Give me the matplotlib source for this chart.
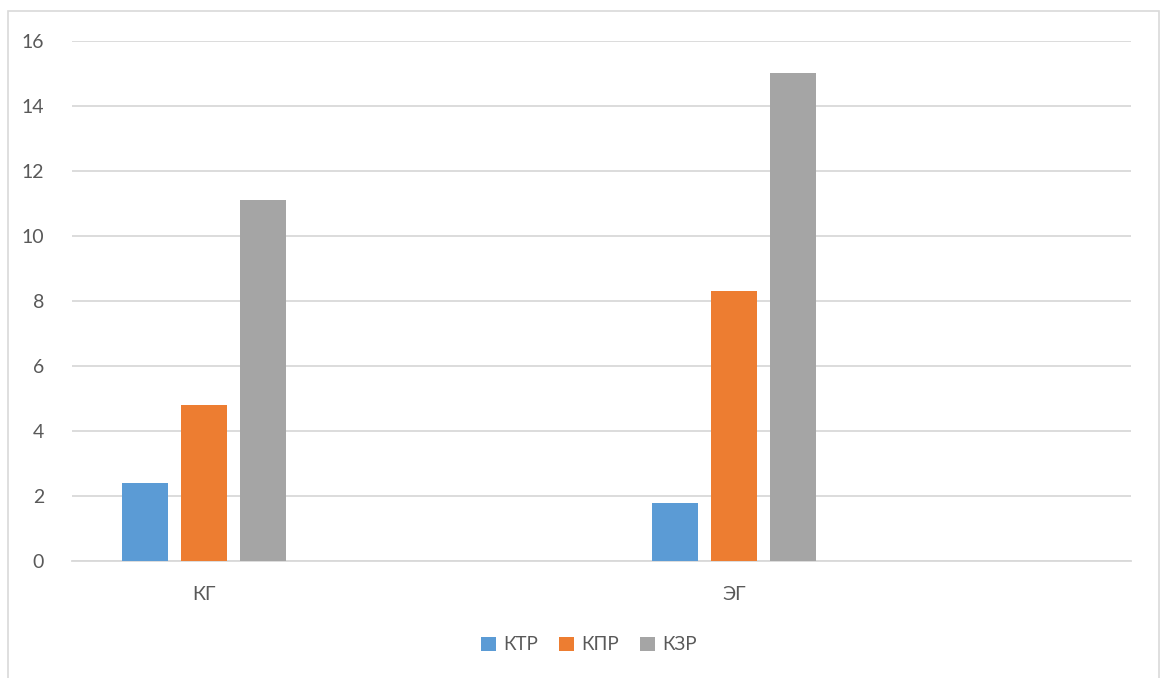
import matplotlib
matplotlib.use("Agg")
import matplotlib.pyplot as plt
import numpy as np
from matplotlib.patches import Rectangle

categories = ["КГ", "", "ЭГ", ""]
series_names = ["КТР", "КПР", "КЗР"]
ktr = [2.4, np.nan, 1.8, np.nan]
kpr = [4.8, np.nan, 8.3, np.nan]
kzr = [11.1, np.nan, 15.0, np.nan]
yticks = [0, 2, 4, 6, 8, 10, 12, 14, 16]

colors = ["#5B9BD5", "#ED7D31", "#A5A5A5"]
text_color = "#595959"
grid_color = "#D9D9D9"

plt.rcParams["font.family"] = ["Lato", "DejaVu Sans"]

fig = plt.figure(figsize=(11.6, 6.78), dpi=100)
fig.patch.set_facecolor("white")

# chart border
fig.add_artist(Rectangle((7.5 / 1160, -0.01), 1151.5 / 1160, 1 - 11 / 678 + 0.01,
                         transform=fig.transFigure, fill=False,
                         edgecolor="#D9D9D9", linewidth=1.2))

ax = fig.add_axes([72 / 1160, 1 - 561 / 678, (1131 - 72) / 1160, (561 - 41) / 678])

x = np.arange(len(categories))
width = 0.174
step = 0.2226
for i, (vals, name) in enumerate(zip([ktr, kpr, kzr], series_names)):
    ax.bar(x + (i - 1) * step, vals, width=width, color=colors[i], label=name, zorder=3)

ax.set_xlim(-0.5, len(categories) - 0.5)
ax.set_ylim(0, 16)
ax.set_yticks(yticks)
ax.set_xticks(x)
ax.set_xticklabels(categories)
ax.yaxis.grid(True, color=grid_color, linewidth=1.3, zorder=0)
ax.set_axisbelow(True)
for s in ["top", "right", "left"]:
    ax.spines[s].set_visible(False)
ax.spines["bottom"].set_color(grid_color)
ax.spines["bottom"].set_linewidth(1.3)
ax.tick_params(axis="both", length=0, labelsize=14, colors=text_color)
ax.tick_params(axis="y", pad=20)
ax.tick_params(axis="x", pad=18)

leg = fig.legend(loc="center", bbox_to_anchor=(589 / 1160, 1 - 645 / 678), ncol=3,
                 frameon=False, fontsize=13.5, handlelength=0.8, handleheight=0.8,
                 handletextpad=0.4, columnspacing=1.1)
for t in leg.get_texts():
    t.set_color(text_color)

fig.savefig("out.png", dpi=100, facecolor="white")
